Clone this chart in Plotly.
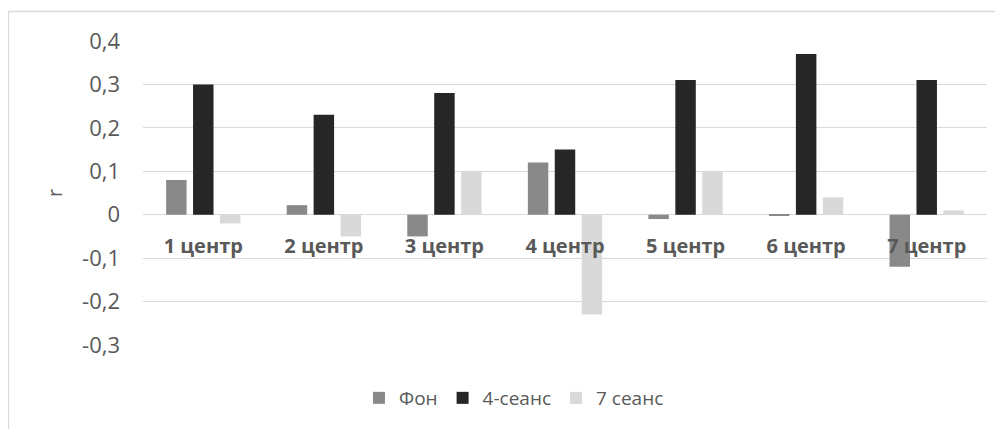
import plotly.graph_objects as go

categories = ["1 центр", "2 центр", "3 центр", "4 центр", "5 центр", "6 центр", "7 центр"]
fon = [0.08, 0.022, -0.05, 0.12, -0.01, -0.003, -0.12]
seans4 = [0.30, 0.23, 0.28, 0.15, 0.31, 0.37, 0.31]
seans7 = [-0.02, -0.05, 0.10, -0.23, 0.10, 0.04, 0.01]
series_names = ["Фон", "4-сеанс", "7 сеанс"]
y_ticks = [-0.3, -0.2, -0.1, 0, 0.1, 0.2, 0.3, 0.4]
y_ticklabels = ["-0,3", "-0,2", "-0,1", "0", "0,1", "0,2", "0,3", "0,4"]

colors = ["#898989", "#262626", "#d9d9d9"]
FONT = "Open Sans"
TXT = "#595959"

fig = go.Figure()
for name, vals, c in zip(series_names, [fon, seans4, seans7], colors):
    fig.add_trace(go.Bar(x=categories, y=vals, name=name, marker=dict(color=c, line=dict(width=0))))

y_min, y_max = y_ticks[0], y_ticks[-1]
zero_pos = (0 - y_min) / (y_max - y_min)

W, H = 995, 421
L, R, T, B = 135, 16, 33, 84
pw, ph = W - L - R, H - T - B

fig.update_layout(
    width=W, height=H,
    margin=dict(l=L, r=R, t=T, b=B),
    plot_bgcolor="white", paper_bgcolor="white",
    barmode="group", bargap=0.33, bargroupgap=0.24,
    font=dict(family=FONT, size=19, color=TXT),
    showlegend=True,
    legend=dict(orientation="h", x=(351 - L) / pw, xanchor="left",
                y=(H - B - 390) / ph, yanchor="middle",
                font=dict(family=FONT, size=19, color=TXT),
                itemwidth=30, traceorder="normal"),
    xaxis=dict(anchor="free", position=zero_pos, showline=False, showgrid=False,
               ticks="", ticklabelstandoff=17,
               tickfont=dict(family=FONT, size=20, color=TXT, weight="bold")),
    yaxis=dict(range=[y_min, y_max], tickvals=y_ticks, ticktext=y_ticklabels,
               showgrid=True, gridcolor="#d9d9d9", gridwidth=1,
               zeroline=True, zerolinecolor="#d9d9d9", zerolinewidth=1,
               ticks="", ticklabelstandoff=22,
               tickfont=dict(family=FONT, size=22, color=TXT),
               title=dict(text="r", font=dict(family=FONT, size=20, color=TXT), standoff=14)),
    shapes=[dict(type="rect", xref="paper", yref="paper",
                 x0=(0.5 - L) / pw, x1=1.2, y0=-0.5, y1=1 + (T - 3.5) / ph,
                 line=dict(color="#d9d9d9", width=1.3), fillcolor="rgba(0,0,0,0)", layer="below")],
)

fig.write_html("out.html")
